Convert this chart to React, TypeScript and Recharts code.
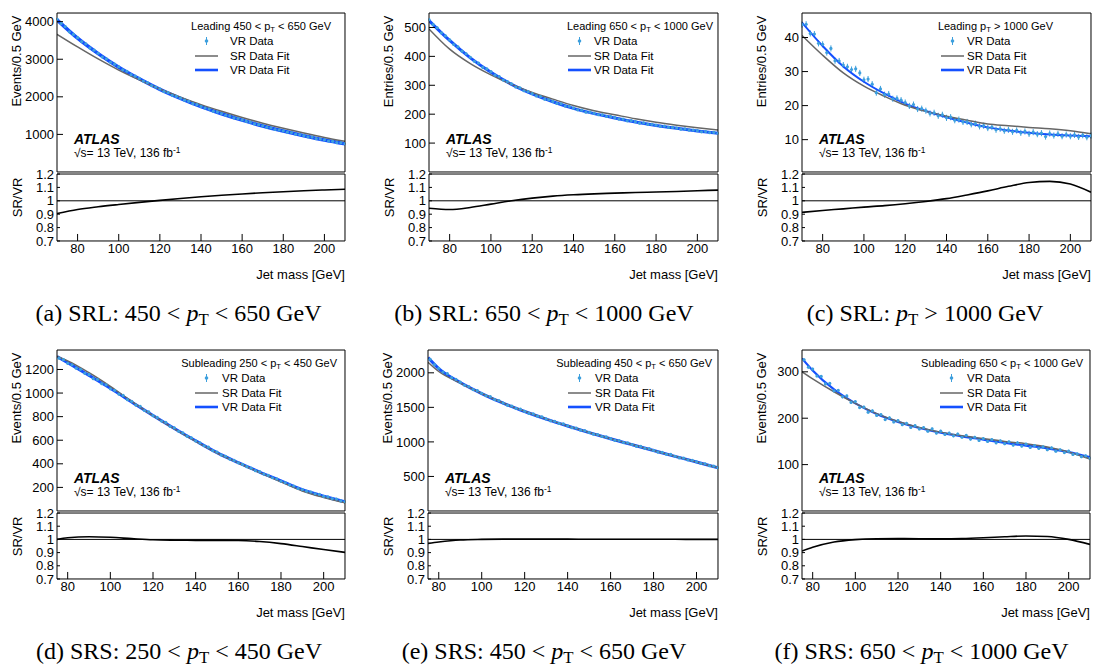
import React from 'react'
import { ComposedChart, Line, Scatter, ErrorBar, XAxis, YAxis, ReferenceLine } from 'recharts'

const SANS = "'Liberation Sans', Arial, Helvetica, sans-serif"
const SERIF = "'Liberation Serif', 'Times New Roman', Times, serif"
const BLUE = '#1450ff'
const DATA_BLUE = '#3d9fdd'
const GREY = '#666666'

const grid = (a: number, b: number, s: number) =>
  Array.from({ length: Math.round((b - a) / s) + 1 }, (_, i) => a + i * s)

// mass grids [GeV]
const fitMassLeading = [70, 80, 90, 100, 110, 120, 130, 140, 150, 160, 170, 180, 190, 200, 210]
const fitMassSubleading = [75, 80, 90, 100, 110, 120, 130, 140, 150, 160, 170, 180, 190, 200, 210]
const dataMassLeading = grid(70, 210, 2)
const dataMassSubleading = grid(76, 210, 2)
const majorX = [80, 100, 120, 140, 160, 180, 200]
const minorX = grid(70, 210, 5)
const ratioTicks = [0.7, 0.8, 0.9, 1, 1.1, 1.2]

// (a) SRL 450-650
const vrFitA = [4050, 3560, 3150, 2790, 2480, 2200, 1960, 1740, 1550, 1380, 1225, 1090, 965, 850, 750]
const srFitA = [3665, 3329, 3008, 2712, 2450, 2207, 1993, 1792, 1614, 1450, 1299, 1164, 1037, 919, 815]
const ratioA = [0.905, 0.935, 0.955, 0.972, 0.988, 1.003, 1.017, 1.03, 1.041, 1.051, 1.06, 1.068, 1.075, 1.081, 1.086]
const vrDataA = [
  4070, 3950, 3870, 3730, 3660, 3575, 3470, 3410, 3300, 3240,
  3160, 3060, 3010, 2920, 2870, 2800, 2720, 2680, 2590, 2550,
  2490, 2420, 2380, 2300, 2260, 2210, 2140, 2110, 2040, 2010,
  1965, 1910, 1880, 1820, 1790, 1745, 1700, 1675, 1615, 1595,
  1555, 1510, 1490, 1440, 1420, 1385, 1345, 1325, 1280, 1260,
  1230, 1190, 1175, 1130, 1120, 1095, 1060, 1050, 1005, 995,
  970, 935, 930, 885, 875, 855, 825, 815, 780, 775,
  752,
]

// (b) SRL 650-1000
const vrFitB = [524, 455, 395, 345, 303, 270, 243, 220, 202, 187, 173, 161, 151, 142, 134]
const srFitB = [495, 425, 375, 336, 303, 275, 252, 230, 212, 198, 184, 172, 162, 153, 145]
const ratioB = [0.945, 0.935, 0.95, 0.975, 1.0, 1.02, 1.035, 1.045, 1.052, 1.057, 1.062, 1.066, 1.07, 1.075, 1.08]
const vrDataB = [
  527, 510, 499, 481, 471, 457, 441, 433, 418, 409,
  397, 383, 377, 362, 357, 347, 335, 330, 318, 313,
  305, 294, 291, 281, 278, 271, 263, 261, 252, 250,
  244, 237, 236, 228, 227, 221, 215, 214, 207, 207,
  203, 198, 198, 192, 192, 188, 183, 183, 177, 178,
  174, 169, 170, 165, 165, 162, 158, 159, 154, 154,
  152, 148, 149, 145, 145, 143, 139, 140, 136, 137,
  134,
]

// (c) SRL > 1000
const vrFitC = [44.4, 37.5, 31.5, 27.0, 23.5, 20.6, 18.4, 16.6, 15.0, 13.6, 12.7, 12.0, 11.5, 11.2, 11.0]
const srFitC = [40.6, 34.8, 29.6, 25.7, 22.7, 20.1, 18.3, 16.9, 15.7, 14.6, 14.1, 13.6, 13.2, 12.6, 11.7]
const ratioC = [0.914, 0.928, 0.94, 0.953, 0.964, 0.978, 0.995, 1.016, 1.044, 1.074, 1.108, 1.137, 1.145, 1.125, 1.064]
const vrDataC = [
  43.8, 43.9, 41.2, 41.0, 38.3, 38.0, 35.6, 36.8, 33.2, 33.1,
  31.9, 31.4, 30.6, 30.8, 29.6, 27.6, 27.8, 26.3, 23.8, 24.9,
  23.2, 23.4, 22.0, 22.1, 21.6, 20.9, 19.9, 20.3, 19.0, 19.1,
  18.5, 17.7, 17.9, 17.0, 17.3, 16.4, 16.6, 15.7, 15.9, 15.2,
  15.2, 14.5, 14.7, 13.9, 14.1, 13.4, 13.7, 12.9, 13.2, 12.6,
  12.9, 12.3, 12.7, 12.0, 12.4, 11.7, 12.2, 11.6, 11.9, 10.9,
  11.8, 11.2, 11.7, 11.0, 11.5, 11.0, 11.4, 10.8, 11.3, 10.7,
  11.2,
]

// (d) SRS 250-450
const vrFitD = [1310, 1258, 1150, 1040, 925, 810, 700, 595, 495, 410, 330, 255, 180, 125, 78]
const srFitD = [1310, 1273, 1173, 1057, 930, 808, 696, 591, 492, 407, 325, 247, 170, 115, 70]
const ratioD = [1.0, 1.012, 1.02, 1.016, 1.006, 0.997, 0.994, 0.993, 0.993, 0.992, 0.984, 0.968, 0.946, 0.923, 0.902]
const vrDataD = [
  1296, 1283, 1252, 1240, 1211, 1201, 1168, 1156, 1122, 1114,
  1080, 1070, 1036, 1023, 991, 980, 944, 930, 898, 888,
  852, 840, 808, 793, 763, 751, 718, 705, 676, 662,
  634, 620, 594, 578, 553, 541, 512, 500, 475, 464,
  440, 429, 408, 395, 376, 363, 342, 333, 313, 302,
  282, 272, 252, 240, 222, 212, 191, 182, 168, 161,
  146, 140, 124, 119, 105, 101, 86, 80,
]

// (e) SRS 450-650
const vrFitE = [2220, 2060, 1860, 1700, 1560, 1440, 1330, 1230, 1135, 1045, 960, 875, 790, 710, 625]
const srFitE = [2153, 2019, 1851, 1700, 1563, 1443, 1333, 1232, 1136, 1046, 961, 876, 791, 710, 625]
const ratioE = [0.97, 0.98, 0.995, 1.0, 1.002, 1.002, 1.002, 1.002, 1.001, 1.001, 1.001, 1.001, 1.001, 1.0, 1.0]
const vrDataE = [
  2196, 2118, 2066, 2012, 1988, 1930, 1904, 1864, 1820, 1802,
  1758, 1742, 1704, 1668, 1655, 1612, 1598, 1563, 1530, 1520,
  1484, 1474, 1442, 1412, 1405, 1372, 1364, 1333, 1305, 1299,
  1268, 1262, 1232, 1206, 1201, 1170, 1163, 1137, 1112, 1107,
  1078, 1072, 1047, 1022, 1020, 990, 986, 962, 936, 934,
  906, 902, 877, 852, 850, 820, 818, 792, 768, 766,
  738, 734, 712, 688, 684, 656, 650, 627,
]

// (f) SRS 650-1000
const vrFitF = [329, 303, 262, 232, 209, 192, 179, 169, 161, 154, 147, 141, 135, 127, 116]
const srFitF = [300, 285, 257, 232, 210, 193, 180, 170, 162, 156, 150, 145, 138, 127, 112]
const ratioF = [0.912, 0.94, 0.98, 0.998, 1.005, 1.006, 1.005, 1.004, 1.006, 1.012, 1.02, 1.026, 1.022, 1.0, 0.962]
const vrDataF = [
  326, 310, 306, 291, 290, 274, 275, 259, 260, 246,
  248, 234, 236, 223, 224, 213, 216, 206, 208, 197,
  201, 192, 195, 186, 189, 180, 184, 177, 180, 172,
  177, 168, 172, 165, 168, 162, 166, 159, 163, 155,
  159, 152, 156, 150, 154, 147, 151, 145, 149, 142,
  147, 140, 144, 137, 141, 135, 138, 132, 136, 129,
  132, 126, 129, 122, 123, 117, 119, 114,
]

type Cfg = {
  L: number; R: number; T: number; B: number; T2: number; B2: number
  xDomain: [number, number]; yDomain: [number, number]; yTicks: number[]; yTitle: string
  fitMass: number[]; vr: number[]; sr: number[]; ratio: number[]
  dataMass: number[]; data: number[]; err: number; blueW: number
  header: [string, string]; hdrRight: number; legText: number
  tag: string; capPre: string; capPost: string; capX: number; capY: number
}

const panels: Cfg[] = [
  {
    L: 57, R: 345, T: 13, B: 172, T2: 174, B2: 241, xDomain: [70, 210], yDomain: [0, 4230],
    yTicks: [1000, 2000, 3000, 4000], yTitle: 'Events/0.5 GeV',
    fitMass: fitMassLeading, vr: vrFitA, sr: srFitA, ratio: ratioA,
    dataMass: dataMassLeading, data: vrDataA, err: 25, blueW: 3.5,
    header: ['Leading 450 < ', ' < 650 GeV'], hdrRight: 14, legText: 115,
    tag: '(a) SRL: ', capPre: '450 < ', capPost: ' < 650 GeV', capX: 178.5, capY: 313,
  },
  {
    L: 429, R: 718, T: 13, B: 172, T2: 174, B2: 241, xDomain: [70, 210], yDomain: [0, 550],
    yTicks: [100, 200, 300, 400, 500], yTitle: 'Entries/0.5 GeV',
    fitMass: fitMassLeading, vr: vrFitB, sr: srFitB, ratio: ratioB,
    dataMass: dataMassLeading, data: vrDataB, err: 4, blueW: 3,
    header: ['Leading 650 < ', ' < 1000 GeV'], hdrRight: 5, legText: 124,
    tag: '(b) SRL: ', capPre: '650 < ', capPost: ' < 1000 GeV', capX: 544, capY: 313,
  },
  {
    L: 802, R: 1091, T: 13, B: 172, T2: 174, B2: 241, xDomain: [70, 210], yDomain: [0.5, 47.2],
    yTicks: [10, 20, 30, 40], yTitle: 'Entries/0.5 GeV',
    fitMass: fitMassLeading, vr: vrFitC, sr: srFitC, ratio: ratioC,
    dataMass: dataMassLeading, data: vrDataC, err: 0.9, blueW: 2,
    header: ['Leading ', ' > 1000 GeV'], hdrRight: 38, legText: 124,
    tag: '(c) SRL: ', capPre: '', capPost: ' > 1000 GeV', capX: 925, capY: 313,
  },
  {
    L: 57, R: 345, T: 350, B: 511, T2: 513, B2: 579, xDomain: [75, 210], yDomain: [0, 1365],
    yTicks: [200, 400, 600, 800, 1000, 1200], yTitle: 'Events/0.5 GeV',
    fitMass: fitMassSubleading, vr: vrFitD, sr: srFitD, ratio: ratioD,
    dataMass: dataMassSubleading, data: vrDataD, err: 10, blueW: 3,
    header: ['Subleading 250 < ', ' < 450 GeV'], hdrRight: 8, legText: 123,
    tag: '(d) SRS: ', capPre: '250 < ', capPost: ' < 450 GeV', capX: 179, capY: 651,
  },
  {
    L: 428, R: 718, T: 350, B: 511, T2: 513, B2: 579, xDomain: [75, 210], yDomain: [0, 2330],
    yTicks: [500, 1000, 1500, 2000], yTitle: 'Events/0.5 GeV',
    fitMass: fitMassSubleading, vr: vrFitE, sr: srFitE, ratio: ratioE,
    dataMass: dataMassSubleading, data: vrDataE, err: 15, blueW: 3,
    header: ['Subleading 450 < ', ' < 650 GeV'], hdrRight: 6, legText: 123,
    tag: '(e) SRS: ', capPre: '450 < ', capPost: ' < 650 GeV', capX: 544, capY: 651,
  },
  {
    L: 802, R: 1090, T: 350, B: 511, T2: 513, B2: 579, xDomain: [75, 210], yDomain: [0, 347],
    yTicks: [100, 200, 300], yTitle: 'Events/0.5 GeV',
    fitMass: fitMassSubleading, vr: vrFitF, sr: srFitF, ratio: ratioF,
    dataMass: dataMassSubleading, data: vrDataF, err: 3, blueW: 2.2,
    header: ['Subleading 650 < ', ' < 1000 GeV'], hdrRight: 7, legText: 123,
    tag: '(f) SRS: ', capPre: '650 < ', capPost: ' < 1000 GeV', capX: 921.5, capY: 651,
  },
]

const ML = 52
const MR = 8
const AX = 0.01 // axis thickness kept (almost) zero so every axis sits on the frame
const BLACK = { stroke: '#000', strokeWidth: 1 }
const TICK = { fontSize: 13, fill: '#000', fontFamily: SANS }

const pT = () => (
  <>
    <span>p</span>
    <sub style={{ fontSize: '0.7em', verticalAlign: '-0.3em', lineHeight: 0 }}>T</sub>
  </>
)

function DataDot(props: any) {
  const { cx, cy } = props
  if (cx == null || cy == null) return null
  return <circle cx={cx} cy={cy} r={1.6} fill={DATA_BLUE} />
}

function Panel({ p }: { p: Cfg }) {
  const { L, R, T, B, T2, B2 } = p
  const W = R - L + ML + MR
  const MT = 8
  const MB = 3
  const RT = 8
  const RB = 30
  const minor = minorX.filter((v) => v >= p.xDomain[0] && v <= p.xDomain[1])
  const fit = p.fitMass.map((m, i) => ({ m, vr: p.vr[i], sr: p.sr[i], ratio: p.ratio[i] }))
  const pts = p.dataMass.map((m, i) => ({ m, v: p.data[i], e: p.err }))

  const xAxes = (labels: boolean) => [
    <XAxis key="xb" xAxisId="x" type="number" dataKey="m" domain={p.xDomain} ticks={majorX} interval={0}
      allowDataOverflow height={AX} tickSize={-7} tickMargin={10} axisLine={BLACK} tickLine={BLACK}
      tick={labels ? TICK : false} />,
    <XAxis key="xbm" xAxisId="xm" type="number" dataKey="m" domain={p.xDomain} ticks={minor} interval={0}
      allowDataOverflow height={AX} tickSize={-3.5} axisLine={false} tickLine={BLACK} tick={false} />,
    <XAxis key="xt" xAxisId="xt" orientation="top" type="number" dataKey="m" domain={p.xDomain} ticks={majorX}
      interval={0} allowDataOverflow height={AX} tickSize={-7} axisLine={BLACK} tickLine={BLACK} tick={false} />,
    <XAxis key="xtm" xAxisId="xtm" orientation="top" type="number" dataKey="m" domain={p.xDomain} ticks={minor}
      interval={0} allowDataOverflow height={AX} tickSize={-3.5} axisLine={false} tickLine={BLACK} tick={false} />,
  ]

  return (
    <>
      <div style={{ position: 'absolute', left: L - ML, top: T - MT }}>
        <ComposedChart width={W} height={B - T + MT + MB} margin={{ top: MT, right: MR, bottom: MB, left: ML }}>
          {xAxes(false)}
          <YAxis yAxisId="y" type="number" domain={p.yDomain} ticks={p.yTicks} interval={0} allowDataOverflow
            width={AX} tickSize={-6} tickMargin={9} axisLine={BLACK} tickLine={BLACK} tick={TICK} />
          <YAxis yAxisId="yr" orientation="right" type="number" domain={p.yDomain} ticks={p.yTicks} interval={0}
            allowDataOverflow width={AX} tickSize={-6} axisLine={BLACK} tickLine={BLACK} tick={false} />
          <Scatter xAxisId="x" yAxisId="y" data={pts} dataKey="v" shape={DataDot} isAnimationActive={false}>
            <ErrorBar dataKey="e" direction="y" width={0} stroke={DATA_BLUE} strokeWidth={1} isAnimationActive={false} />
          </Scatter>
          <Line xAxisId="x" yAxisId="y" data={fit} dataKey="vr" type="monotone" stroke={BLUE}
            strokeWidth={p.blueW} dot={false} isAnimationActive={false} />
          <Line xAxisId="x" yAxisId="y" data={fit} dataKey="sr" type="monotone" stroke={GREY}
            strokeWidth={1.5} dot={false} isAnimationActive={false} />
        </ComposedChart>
      </div>

      <div style={{ position: 'absolute', left: L - ML, top: T2 - RT }}>
        <ComposedChart width={W} height={B2 - T2 + RT + RB} margin={{ top: RT, right: MR, bottom: RB, left: ML }}>
          {xAxes(true)}
          <YAxis yAxisId="y" type="number" domain={[0.7, 1.2]} ticks={ratioTicks} interval={0} allowDataOverflow
            width={AX} tickSize={-3} tickMargin={6} axisLine={BLACK} tickLine={BLACK} tick={TICK}
            tickFormatter={(v: number) => (v === 1 ? '1' : v.toFixed(1))} />
          <YAxis yAxisId="yr" orientation="right" type="number" domain={[0.7, 1.2]} ticks={ratioTicks}
            interval={0} allowDataOverflow width={AX} tickSize={-3} axisLine={BLACK} tickLine={BLACK} tick={false} />
          <ReferenceLine xAxisId="x" yAxisId="y" y={1} stroke="#000" strokeWidth={1} />
          <Line xAxisId="x" yAxisId="y" data={fit} dataKey="ratio" type="monotone" stroke="#000"
            strokeWidth={1.6} dot={false} isAnimationActive={false} />
        </ComposedChart>
      </div>

      {/* axis titles */}
      <div style={{
        position: 'absolute', left: L - 41 - 75, top: T + 2 + 75 - 6.5, width: 150, height: 13,
        lineHeight: '13px', fontSize: 13, fontFamily: SANS, textAlign: 'right', whiteSpace: 'nowrap',
        transform: 'rotate(-90deg)',
      }}>{p.yTitle}</div>
      <div style={{
        position: 'absolute', left: L - 40 - 40, top: T2 + 3 + 40 - 6.5, width: 80, height: 13,
        lineHeight: '13px', fontSize: 13, fontFamily: SANS, textAlign: 'right', whiteSpace: 'nowrap',
        transform: 'rotate(-90deg)',
      }}>SR/VR</div>
      <div style={{
        position: 'absolute', left: R - 200, width: 200, top: B2 + 34 - 7, lineHeight: '13px',
        fontSize: 13, fontFamily: SANS, textAlign: 'right', whiteSpace: 'nowrap',
      }}>Jet mass [GeV]</div>

      {/* legend */}
      <div style={{
        position: 'absolute', left: R - 300, width: 300 - p.hdrRight, top: T + 13 - 5.5, lineHeight: '11px',
        fontSize: 11, fontFamily: SANS, textAlign: 'right', whiteSpace: 'nowrap',
      }}>{p.header[0]}{pT()}{p.header[1]}</div>
      {[
        { label: 'VR Data', kind: 'data', dy: 28 },
        { label: 'SR Data Fit', kind: 'sr', dy: 42.5 },
        { label: 'VR Data Fit', kind: 'vr', dy: 57 },
      ].map((e) => (
        <React.Fragment key={e.label}>
          <svg style={{ position: 'absolute', left: R - 150, top: T + e.dy - 6 }} width={24} height={12}>
            {e.kind === 'data' && (
              <>
                <line x1={11.5} x2={11.5} y1={2} y2={10} stroke={DATA_BLUE} strokeWidth={1} />
                <circle cx={11.5} cy={6} r={1.8} fill={DATA_BLUE} />
              </>
            )}
            {e.kind === 'sr' && <line x1={0} x2={23} y1={6} y2={6} stroke={GREY} strokeWidth={1.5} />}
            {e.kind === 'vr' && <line x1={0} x2={23} y1={6} y2={6} stroke={BLUE} strokeWidth={2.6} />}
          </svg>
          <div style={{
            position: 'absolute', left: R - p.legText, top: T + e.dy - 6, lineHeight: '12px', fontSize: 11.5,
            fontFamily: SANS, whiteSpace: 'nowrap',
          }}>{e.label}</div>
        </React.Fragment>
      ))}

      {/* ATLAS label */}
      <div style={{
        position: 'absolute', left: L + 17, top: B - 33 - 7, lineHeight: '14px', fontSize: 14,
        fontFamily: SANS, fontWeight: 'bold', fontStyle: 'italic', whiteSpace: 'nowrap',
      }}>ATLAS</div>
      <div style={{
        position: 'absolute', left: L + 17, top: B - 19.5 - 6, lineHeight: '12px', fontSize: 12,
        fontFamily: SANS, whiteSpace: 'nowrap',
      }}>√s= 13 TeV, 136 fb<sup style={{ fontSize: '0.7em', verticalAlign: '0.45em', lineHeight: 0 }}>-1</sup></div>

      {/* caption */}
      <div style={{
        position: 'absolute', left: p.capX - 200, width: 400, top: p.capY - 12, lineHeight: '24px',
        fontSize: 24, fontFamily: SERIF, textAlign: 'center', whiteSpace: 'nowrap',
      }}>
        {p.tag}{p.capPre}<i>p</i>
        <sub style={{ fontSize: '0.7em', verticalAlign: '-0.25em', lineHeight: 0 }}>T</sub>{p.capPost}
      </div>
    </>
  )
}

export default function App() {
  return (
    <div style={{ position: 'absolute', left: 0, top: 0, width: 1096, height: 666, background: '#fff' }}>
      {panels.map((p, i) => (
        <Panel key={i} p={p} />
      ))}
    </div>
  )
}
